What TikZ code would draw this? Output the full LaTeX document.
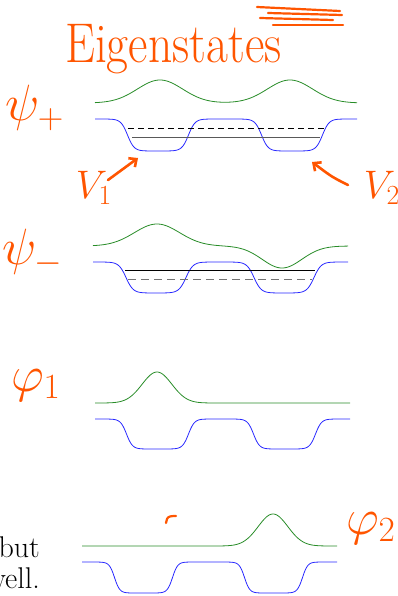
\documentclass[tikz,border=0pt]{standalone}
\usepackage{graphicx}
\usetikzlibrary{arrows.meta}
\definecolor{handorange}{RGB}{255,85,0}
\definecolor{wfgreen}{RGB}{40,140,40}
\definecolor{potblue}{RGB}{40,40,255}
\newcommand{\bigmath}[1]{\scalebox{2.05}{$#1$}}
\newcommand{\midmath}[1]{\scalebox{1.6}{$#1$}}
\begin{document}
\begin{tikzpicture}[x=1pt,y=-1pt,
  declare function={
    fw(\xa,\xc,\xw,\xs)=1/(1+exp(min((abs(\xa-\xc)-\xw)/\xs,9)));
    gs(\xa,\xc,\xs)=exp(-min(((\xa-\xc)/\xs)^2,9));
  },
  pot/.style={potblue, line width=0.8pt},
  wave/.style={wfgreen, line width=0.8pt},
  level/.style={black!85, line width=0.8pt},
  levdash/.style={black, line width=0.8pt, dash pattern=on 6pt off 4pt},
  handstroke/.style={handorange, line width=2.6pt, line cap=round, line join=round},
  handtext/.style={text=handorange, inner sep=0pt, font=\fontsize{24}{28}\selectfont},
  slide/.style={inner sep=0pt, font=\fontsize{30}{35}\selectfont},
  barb/.style={-{Straight Barb[length=6pt,width=11pt]}},
]
\useasboundingbox (0,0) rectangle (398,596);
\clip (0,0) rectangle (398,596);

% title
\node[handtext, anchor=base west] (title) at (65,63) {\fontsize{56}{62}\selectfont\scalebox{0.85}[1]{Eigenstates}};
\draw[handstroke, line width=2.2pt] (257,7) -- (340,11);
\draw[handstroke, line width=2.2pt] (268,13) -- (342,15);
\draw[handstroke, line width=2.2pt] (260,18) -- (333,20);
\draw[handstroke, line width=2.2pt] (273,25) -- (343,25);

% panel 1: psi+
\node[handtext] (psiplus) at (35,108) {\bigmath{\psi_{+}}};
\draw[wave] plot[domain=95:357, samples=200] (\x, {103-23*(gs(\x,160,32)+gs(\x,290,32))});
\draw[pot] plot[domain=95:357, samples=262] (\x, {119+32*(fw(\x,158,30.5,3.3)+fw(\x,292,30.5,3.3))});
\draw[levdash] (128,128) -- (325,128);
\draw[level, black!65] (132,137) -- (320,137);

\node[handtext] (vone) at (94,188) {\midmath{V_1}};
\coordinate (vonefrom) at (108,180);
\coordinate (vonetip) at (138,158);
\draw[handstroke, barb] (vonefrom) -- (vonetip);
\node[handtext] (vtwo) at (382,188) {\midmath{V_2}};
\coordinate (vtwofrom) at (348,185);
\coordinate (vtwotip) at (312,162);
\draw[handstroke, barb] (vtwofrom) .. controls (332,177) .. (vtwotip);

% panel 2: psi-
\node[handtext] (psiminus) at (33,252) {\bigmath{\psi_{-}}};
\draw[wave] plot[domain=93:348, samples=200] (\x, {246-22*gs(\x,157,32)+22*gs(\x,282,28)});
\draw[pot] plot[domain=93:348, samples=256] (\x, {262+31*(fw(\x,156,30,3.6)+fw(\x,284,30,3.6))});
\draw[level, black] (125,270) -- (315,270);
\draw[levdash, black!55, dash pattern=on 8pt off 5pt] (128,279) -- (312,279);

% panel 3: phi1
\node[handtext] (phione) at (36,385) {\bigmath{\varphi_1}};
\draw[wave] plot[domain=95:350, samples=200] (\x, {403-31*gs(\x,157,21)});
\draw[pot] plot[domain=95:350, samples=256] (\x, {419+30*(fw(\x,157.5,31,3)+fw(\x,284.5,31,3))});

% panel 4: phi2
\node[handtext] (phitwo) at (371,528) {\bigmath{\varphi_2}};
\draw[wave] plot[domain=82:337, samples=200] (\x, {546-32*gs(\x,273,21)});
\draw[pot] plot[domain=82:337, samples=256] (\x, {562+31*(fw(\x,143.5,29,2.6)+fw(\x,273.5,29,2.6))});
\draw[handstroke, line width=2.2pt] (166,523) -- (167,519) .. controls (168,516) and (172,516) .. (176,516);

% slide text
\node[slide, anchor=base east] (but) at (40,557) {but};
\node[slide, anchor=base east] (well) at (40,588) {well.};
\end{tikzpicture}
\end{document}
